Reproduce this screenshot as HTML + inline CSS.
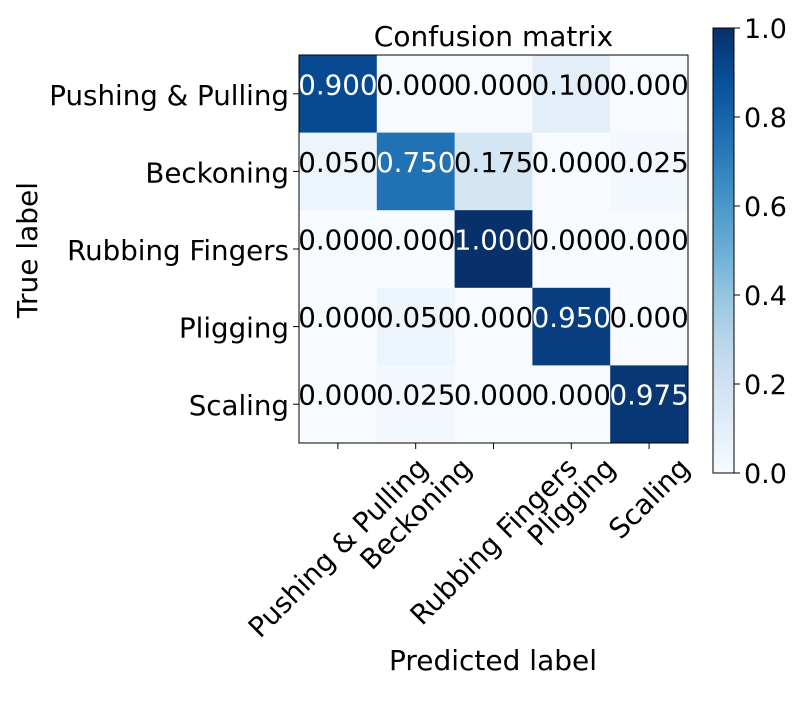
<!DOCTYPE html>
<html><head><meta charset="utf-8"><style>
body{margin:0;background:#fff}
svg text{font-family:"DejaVu Sans","Liberation Sans",sans-serif;fill:#000}
</style></head><body>
<svg id="chart" width="800" height="700" viewBox="0 0 800 700" xmlns="http://www.w3.org/2000/svg"></svg>
<script>
const classes=["Pushing & Pulling","Beckoning","Rubbing Fingers","Pligging","Scaling"];
const row0=[0.900,0.000,0.000,0.100,0.000];
const row1=[0.050,0.750,0.175,0.000,0.025];
const row2=[0.000,0.000,1.000,0.000,0.000];
const row3=[0.000,0.050,0.000,0.950,0.000];
const row4=[0.000,0.025,0.000,0.000,0.975];
const matrix=[row0,row1,row2,row3,row4];
const cbTicks=[0.0,0.2,0.4,0.6,0.8,1.0];
const NS="http://www.w3.org/2000/svg";
const svg=document.getElementById('chart');
const L=299,T=55,W=389,H=388,n=classes.length,cw=W/n,ch=H/n,FS=27.7;
const cbL=713,cbR=734,cbT=28,cbB=473;
const stops=["#f7fbff","#deebf7","#c6dbef","#9ecae1","#6baed6","#4292c6","#2171b5","#08519c","#08306b"];
function hex(h){return [1,3,5].map(i=>parseInt(h.substr(i,2),16));}
function blues(v){v=Math.max(0,Math.min(1,v));const p=v*8,i=Math.min(7,Math.floor(p)),f=p-i;const a=hex(stops[i]),b=hex(stops[i+1]);return `rgb(${a.map((x,k)=>Math.round(x+(b[k]-x)*f)).join(',')})`;}
const xs=j=>L+cw*(j+0.5), ys=i=>T+ch*(i+0.5), cy=v=>cbB-(cbB-cbT)*v;
function el(tag,attrs,txt){const e=document.createElementNS(NS,tag);for(const k in attrs)e.setAttribute(k,attrs[k]);if(txt!==undefined)e.textContent=txt;svg.appendChild(e);return e;}
matrix.forEach((row,i)=>row.forEach((v,j)=>{
 const r=el('rect',{x:L+cw*j,y:T+ch*i,width:cw+0.5,height:ch+0.5,fill:blues(v)});
 
 
}));
matrix.forEach((row,i)=>row.forEach((v,j)=>{
 const t=el('text',{x:xs(j),y:ys(i)+0.5,'text-anchor':'middle','font-size':FS,style:'fill:'+(v>0.5?'#fff':'#000')},v.toFixed(3));
 
 
}));
const fr=el('rect',{x:L,y:T,width:W,height:H,fill:'none',stroke:'#000','stroke-width':1});


classes.forEach((c,i)=>{
 el('line',{x1:L-6,x2:L,y1:ys(i),y2:ys(i),stroke:'#000'});
 const t=el('text',{x:L-10,y:ys(i)+11,'text-anchor':'end','font-size':FS},c);
 
 
 el('line',{x1:xs(i),x2:xs(i),y1:T+H,y2:T+H+6,stroke:'#000'});
 const u=el('text',{x:0,y:0,'text-anchor':'middle','font-size':FS},c);
 
 
 const w=u.getComputedTextLength(),h=FS*1.0;
 const half=(w+h)*0.7071/2;
 u.setAttribute('transform',`translate(${xs(i)},${T+H+10+half}) rotate(-45) translate(0,${FS*0.35})`);
});
let t=el('text',{x:L+W/2,y:46,'text-anchor':'middle','font-size':28},'Confusion matrix');

t=el('text',{x:493,y:670,'text-anchor':'middle','font-size':28},'Predicted label');

t=el('text',{x:0,y:0,'text-anchor':'middle','font-size':28,transform:'translate(37,250) rotate(-90)'},'True label');

const defs=el('defs',{});const g=document.createElementNS(NS,'linearGradient');g.setAttribute('id','cbg');g.setAttribute('x1','0');g.setAttribute('y1','1');g.setAttribute('x2','0');g.setAttribute('y2','0');defs.appendChild(g);
stops.forEach((s,k)=>{const st=document.createElementNS(NS,'stop');st.setAttribute('offset',k/8);st.setAttribute('stop-color',s);g.appendChild(st);});
const cb=el('rect',{x:cbL,y:cbT,width:cbR-cbL,height:cbB-cbT,fill:'url(#cbg)',stroke:'#000'});

cbTicks.forEach(v=>{
 el('line',{x1:cbR,x2:cbR+6,y1:cy(v),y2:cy(v),stroke:'#000'});
 const tt=el('text',{x:cbR+10,y:cy(v)+10,'font-size':27},v.toFixed(1));
 
});
</script>
</body></html>
